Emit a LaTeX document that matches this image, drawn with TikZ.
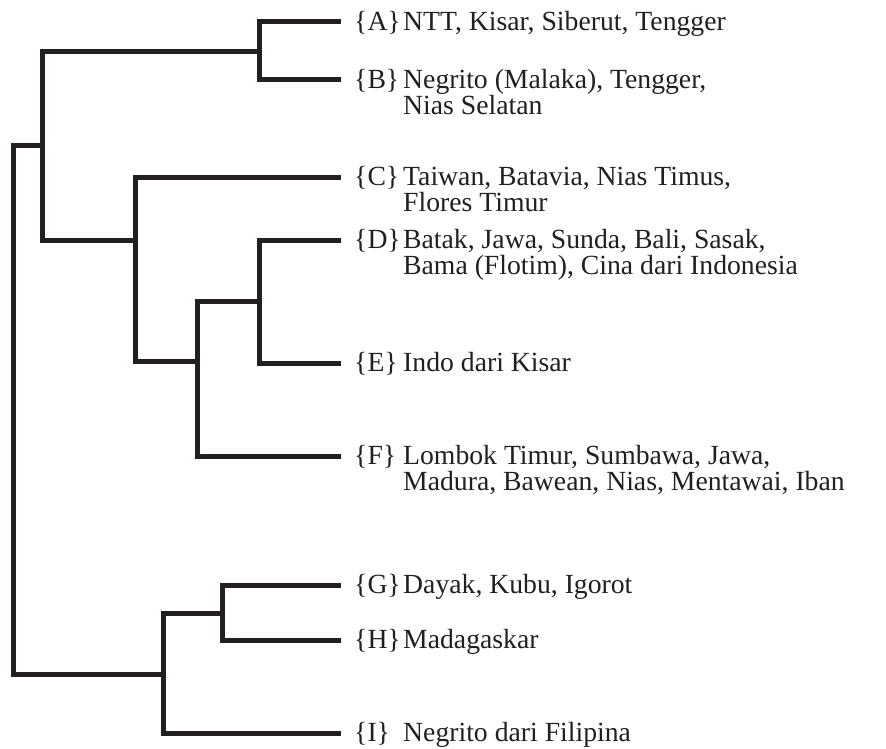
\documentclass[tikz,border=0pt]{standalone}
\usepackage{fontspec}
\setmainfont{Liberation Serif}
\definecolor{ink}{HTML}{231F20}
\newcommand\twolines[2]{\vtop{\baselineskip=25.5pt\lineskiplimit=-30pt\hbox{#1}\hbox{#2}}}
\begin{document}
\begin{tikzpicture}[x=1pt,y=-1pt,
  branch/.style={draw=ink,line width=5pt,line join=miter,line cap=rect},
  tag/.style={anchor=base west,inner sep=0pt,text=ink,font=\fontsize{27.7}{25.5}\selectfont},
  leaftext/.style={anchor=base west,inner sep=0pt,text=ink,font=\fontsize{27.7}{25.5}\selectfont}]
\useasboundingbox (0,0) rectangle (886,749);
% leaf ends
\coordinate (a) at (338,22);
\coordinate (b) at (338,80);
\coordinate (c) at (338,177);
\coordinate (d) at (338,240);
\coordinate (e) at (338,363);
\coordinate (f) at (338,456);
\coordinate (g) at (338,585);
\coordinate (h) at (338,640);
\coordinate (i) at (338,733);
% internal joints
\coordinate (nab) at (259,52);
\coordinate (nde) at (259,301);
\coordinate (ndef) at (197,361);
\coordinate (ncdef) at (135,240);
\coordinate (nup) at (42,146);
\coordinate (ngh) at (222,613);
\coordinate (nghi) at (163,674);
\coordinate (root) at (13,400);
% branches
\draw[branch] (a) -| (nab) |- (b);
\draw[branch] (d) -| (nde) |- (e);
\draw[branch] (nde) -| (ndef) |- (f);
\draw[branch] (c) -| (ncdef) |- (ndef);
\draw[branch] (nab) -| (nup) |- (ncdef);
\draw[branch] (g) -| (ngh) |- (h);
\draw[branch] (ngh) -| (nghi) |- (i);
\draw[branch] (nup) -| (root) |- (nghi);
% labels
\node[tag] (ta) at (354,30.7) {\{A\}};
\node[leaftext] (la) at (403,30.7) {NTT, Kisar, Siberut, Tengger};
\node[tag] (tb) at (354,88.7) {\{B\}};
\node[leaftext] (lb) at (403,88.7) {\twolines{Negrito (Malaka), Tengger,}{Nias Selatan}};
\node[tag] (tc) at (354,185.7) {\{C\}};
\node[leaftext] (lc) at (403,185.7) {\twolines{Taiwan, Batavia, Nias Timus,}{Flores Timur}};
\node[tag] (td) at (354,248.7) {\{D\}};
\node[leaftext] (ld) at (403,248.7) {\twolines{Batak, Jawa, Sunda, Bali, Sasak,}{Bama (Flotim), Cina dari Indonesia}};
\node[tag] (te) at (354,371.7) {\{E\}};
\node[leaftext] (le) at (403,371.7) {Indo dari Kisar};
\node[tag] (tf) at (354,464.7) {\{F\}};
\node[leaftext] (lf) at (403,464.7) {\twolines{Lombok Timur, Sumbawa, Jawa,}{Madura, Bawean, Nias, Mentawai, Iban}};
\node[tag] (tg) at (354,593.7) {\{G\}};
\node[leaftext] (lg) at (403,593.7) {Dayak, Kubu, Igorot};
\node[tag] (th) at (354,648.7) {\{H\}};
\node[leaftext] (lh) at (403,648.7) {Madagaskar};
\node[tag] (ti) at (354,741.7) {\{I\}};
\node[leaftext] (li) at (403,741.7) {Negrito dari Filipina};
\end{tikzpicture}
\end{document}
